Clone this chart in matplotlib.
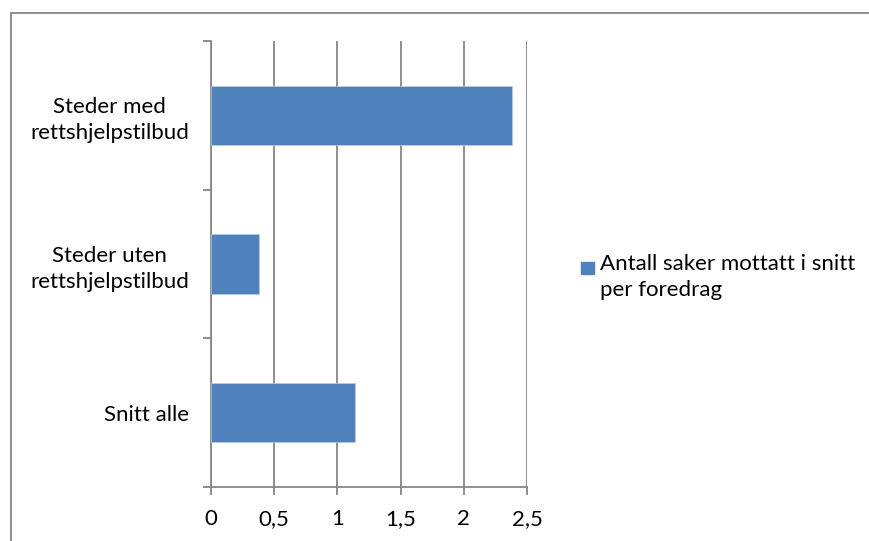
import matplotlib as mpl
mpl.use('Agg')
import matplotlib.pyplot as plt
from matplotlib.patches import Rectangle
from matplotlib.ticker import FixedLocator, FuncFormatter

plt.rcParams['font.family'] = ['Lato', 'DejaVu Sans']

categories = ['Snitt alle', 'Steder uten\nrettshjelpstilbud', 'Steder med\nrettshjelpstilbud']
values = [1.14, 0.38, 2.38]
series_name = 'Antall saker mottatt i snitt\nper foredrag'
xticks = [0, 0.5, 1, 1.5, 2, 2.5]

bar_color = '#4F81BD'
grid_color = '#868686'
fs = 16

fig = plt.figure(figsize=(8.7, 5.41), dpi=100)
ax = fig.add_axes([211/870, 54/541, 316/870, 446/541])

ypos = list(range(len(categories)))
ax.barh(ypos, values, height=0.4, color=bar_color, edgecolor='#B9CDE5', linewidth=0.5, zorder=3)

ax.set_xlim(0, 2.5)
ax.set_ylim(-0.5, len(categories) - 0.5)
ax.set_xticks(xticks)
ax.xaxis.set_major_formatter(FuncFormatter(lambda v, p: ('%g' % v).replace('.', ',')))
ax.set_yticks(ypos)
ax.set_yticklabels(categories, ha='right', multialignment='center', linespacing=1.35)
ax.yaxis.set_minor_locator(FixedLocator([i - 0.5 for i in range(len(categories) + 1)]))

ax.grid(axis='x', color=grid_color, linewidth=1.3, zorder=0)
for s in ['top', 'right']:
    ax.spines[s].set_visible(False)
for s in ['left', 'bottom']:
    ax.spines[s].set_color(grid_color)
    ax.spines[s].set_linewidth(1.3)

ax.tick_params(axis='y', which='major', length=0, pad=16, labelsize=fs, colors='black')
ax.tick_params(axis='y', which='minor', length=6, width=1.3, color=grid_color)
ax.tick_params(axis='x', which='major', length=6, width=1.3, color=grid_color,
               pad=10, labelsize=fs, labelcolor='black')

# legend drawn by hand so the marker sits on the first line
fig.patches.append(Rectangle((581/870, 1 - 274/541), 13/870, 12/541,
                             transform=fig.transFigure, color=bar_color))
fig.text(600/870, 1 - 254/541, series_name, fontsize=fs, va='top', ha='left',
         linespacing=1.35, transform=fig.transFigure)

# outer chart border
fig.patches.append(Rectangle((11/870, -0.05), 1.0, 1 - 13/541 + 0.05,
                             transform=fig.transFigure, fill=False,
                             edgecolor='#868686', linewidth=1.3))

plt.savefig('out.png')
